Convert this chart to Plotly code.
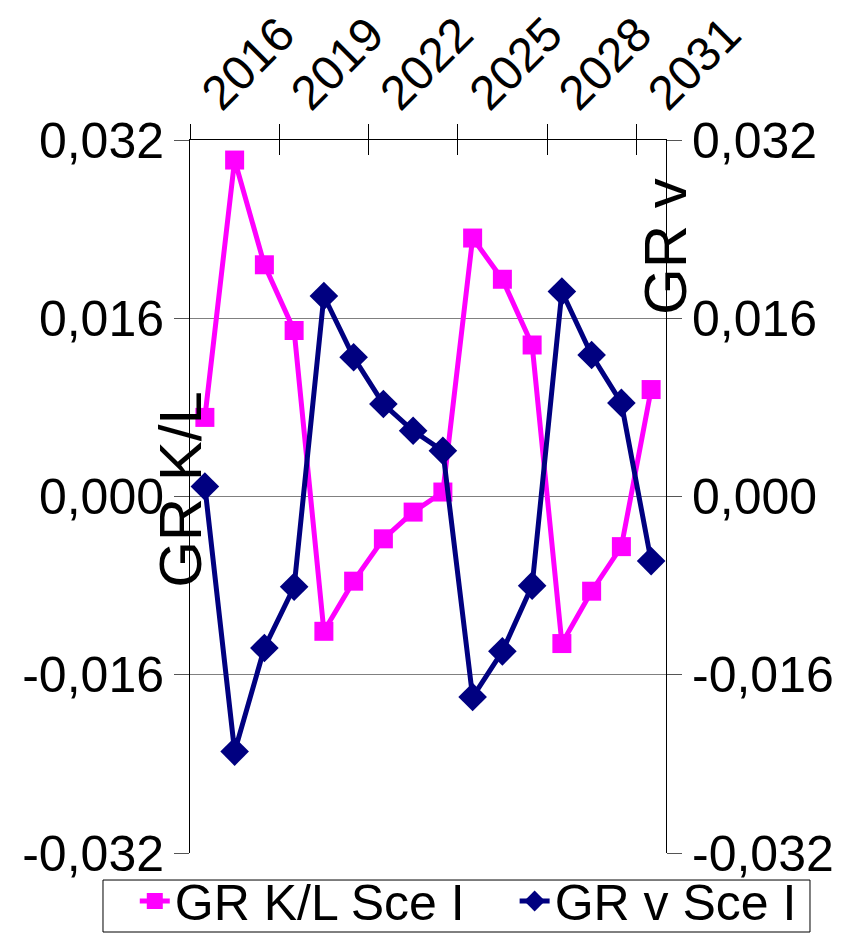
import plotly.graph_objects as go

# Years on the category axis
years = list(range(2016, 2032))
year_labels = [str(y) for y in years[::3]]

# Growth rates, scenario I
gr_kl = [0.0071, 0.0302, 0.0208, 0.0149, -0.0121, -0.0076, -0.0038, -0.0014,
         0.0004, 0.0232, 0.0195, 0.0136, -0.0132, -0.0085, -0.0045, 0.0096]
gr_v = [0.0009, -0.0229, -0.0136, -0.0081, 0.0180, 0.0125, 0.0083, 0.0059,
        0.0041, -0.0180, -0.0139, -0.0080, 0.0184, 0.0127, 0.0084, -0.0058]

y_ticks = [-0.032, -0.016, 0.0, 0.016, 0.032]
y_tick_text = ["-0,032", "-0,016", "0,000", "0,016", "0,032"]

FONT = "Liberation Sans, Arial, sans-serif"
MAGENTA = "#FF00FF"
NAVY = "#000080"

fig = go.Figure()
fig.add_trace(go.Scatter(
    x=years, y=gr_kl, name="GR K/L Sce I", mode="lines+markers",
    line=dict(color=MAGENTA, width=5),
    marker=dict(symbol="square", size=19, color=MAGENTA),
    xaxis="x", yaxis="y", legend="legend",
))
fig.add_trace(go.Scatter(
    x=years, y=gr_v, name="GR v Sce I", mode="lines+markers",
    line=dict(color=NAVY, width=5),
    marker=dict(symbol="diamond", size=22, color=NAVY),
    xaxis="x", yaxis="y2", legend="legend2",
))

x_range = [years[0] - 0.5, years[-1] + 0.5]
boundaries = [years[0] - 0.5 + 3 * k for k in range(6)]

legend_style = dict(
    orientation="h", xref="paper", yref="paper", xanchor="left",
    y=-0.0673, yanchor="middle", font=dict(size=50, family=FONT),
    borderwidth=0, bgcolor="rgba(0,0,0,0)", itemwidth=30,
)

fig.update_layout(
    width=848, height=933,
    margin=dict(l=190, r=182, t=140, b=80, autoexpand=False),
    paper_bgcolor="white", plot_bgcolor="white",
    font=dict(family=FONT, color="black"),
    showlegend=True,
    legend=dict(x=-0.116, **legend_style),
    legend2=dict(x=0.682, **legend_style),
    # frame around both legend entries
    shapes=[dict(type="rect", xref="paper", yref="paper",
                 x0=-0.1828, x1=1.3025, y0=-0.1108, y1=-0.0379,
                 line=dict(color="black", width=1), fillcolor="rgba(0,0,0,0)")],
    xaxis=dict(
        side="top", range=x_range, tickvals=years[::3], ticktext=year_labels,
        tickangle=-45, ticks="", showgrid=False, zeroline=False,
        showline=True, linecolor="black", linewidth=1,
        tickfont=dict(size=48, family=FONT), mirror=False,
    ),
    xaxis2=dict(
        overlaying="x", side="top", range=x_range, tickvals=boundaries,
        ticks="outside", ticklen=15, tickcolor="black", tickwidth=1,
        showticklabels=False, showgrid=False, zeroline=False, showline=False,
    ),
    xaxis3=dict(
        overlaying="x", side="top", range=x_range, tickvals=boundaries,
        ticks="inside", ticklen=15, tickcolor="black", tickwidth=1,
        showticklabels=False, showgrid=False, zeroline=False, showline=False,
    ),
    yaxis=dict(
        range=[-0.032, 0.032], tickvals=y_ticks, ticktext=y_tick_text,
        ticks="outside", ticklen=15, tickcolor="#555555",
        showgrid=True, gridcolor="#808080", gridwidth=1, zeroline=False,
        showline=True, linecolor="black", linewidth=1,
        tickfont=dict(size=50, family=FONT),
    ),
    yaxis2=dict(
        overlaying="y", side="right", range=[-0.032, 0.032],
        tickvals=y_ticks, ticktext=y_tick_text,
        ticks="outside", ticklen=15, tickcolor="#555555",
        showgrid=False, zeroline=False,
        showline=True, linecolor="black", linewidth=1,
        tickfont=dict(size=50, family=FONT),
    ),
    annotations=[
        dict(text="GR K/L", textangle=-90, showarrow=False,
             xref="paper", yref="paper", x=-0.02, y=0.51, xanchor="center",
             yanchor="middle", font=dict(size=60, family=FONT)),
        dict(text="GR v", textangle=-90, showarrow=False,
             xref="paper", yref="paper", x=1.0, y=0.85, xanchor="center",
             yanchor="middle", font=dict(size=60, family=FONT)),
    ],
)

# placeholder traces so the overlay tick axes are drawn
for ax in ("x2", "x3"):
    fig.add_trace(go.Scatter(x=[years[0]], y=[None], xaxis=ax, yaxis="y",
                             showlegend=False, hoverinfo="skip"))

fig.write_html("out.html")
